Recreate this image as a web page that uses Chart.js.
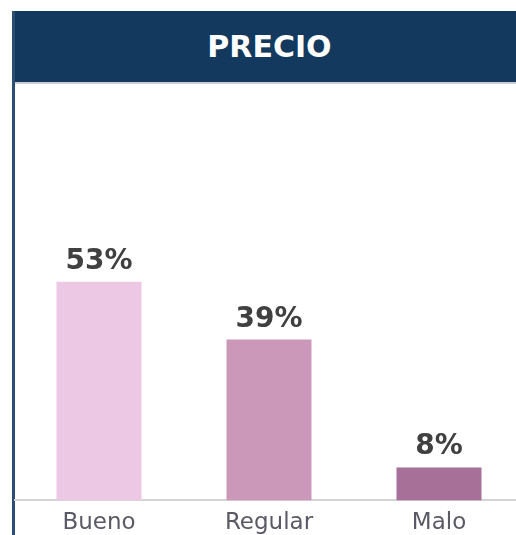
<!DOCTYPE html>
<html>
<head>
<meta charset="utf-8">
<script src="https://cdn.jsdelivr.net/npm/chart.js@4.4.0/dist/chart.umd.min.js"></script>
<style>
  html, body { margin: 0; padding: 0; background: #ffffff; overflow: hidden; width: 516px; height: 535px; }
  #frame { position: absolute; left: 12px; top: 11px; width: 509px; height: 540px; border-left: 3px solid #2b4f74; }
  #header { position: absolute; left: 0; top: 0; width: 509px; height: 71px; background: #133a5e;
            border-bottom: 2px solid #c9ced6; color: #ffffff; font: bold 30px "DejaVu Sans", sans-serif;
            text-align: center; line-height: 71px; }
  #box { position: absolute; left: 14px; top: 84px; width: 510px; height: 462px; }
</style>
</head>
<body>
<div id="frame"><div id="header">PRECIO</div></div>
<div id="box"><canvas id="c"></canvas></div>
<script>
const categories = ["Bueno", "Regular", "Malo"];
const values = [53, 39, 8];
const valueLabels = ["53%", "39%", "8%"];
const barColors = ["#ecc8e4", "#cc98b9", "#a67099"];

const valueLabelPlugin = {
  id: "valueLabels",
  afterDatasetsDraw(chart) {
    const ctx = chart.ctx;
    const meta = chart.getDatasetMeta(0);
    ctx.save();
    ctx.font = "bold 28px 'DejaVu Sans', sans-serif";
    ctx.fillStyle = "#404040";
    ctx.textAlign = "center";
    ctx.textBaseline = "alphabetic";
    meta.data.forEach((bar, i) => {
      ctx.fillText(valueLabels[i], bar.x, bar.y - 13);
    });
    ctx.restore();
  }
};

new Chart(document.getElementById("c"), {
  type: "bar",
  data: {
    labels: categories,
    datasets: [{ data: values, backgroundColor: barColors, borderWidth: 0,
                 barPercentage: 1.0, categoryPercentage: 0.5 }]
  },
  options: {
    responsive: true,
    maintainAspectRatio: false,
    animation: false,
    layout: { padding: { top: 4, left: 0, right: 0, bottom: 0 } },
    plugins: { legend: { display: false }, tooltip: { enabled: false } },
    scales: {
      x: {
        grid: { display: false, drawTicks: false },
        border: { display: true, color: "#d4d4d4", width: 2 },
        ticks: { color: "#5a5a66", font: { family: "'DejaVu Sans', sans-serif", size: 23 }, padding: 9 }
      },
      y: { display: false, min: 0, max: 100 }
    }
  },
  plugins: [valueLabelPlugin]
});
</script>
</body>
</html>
